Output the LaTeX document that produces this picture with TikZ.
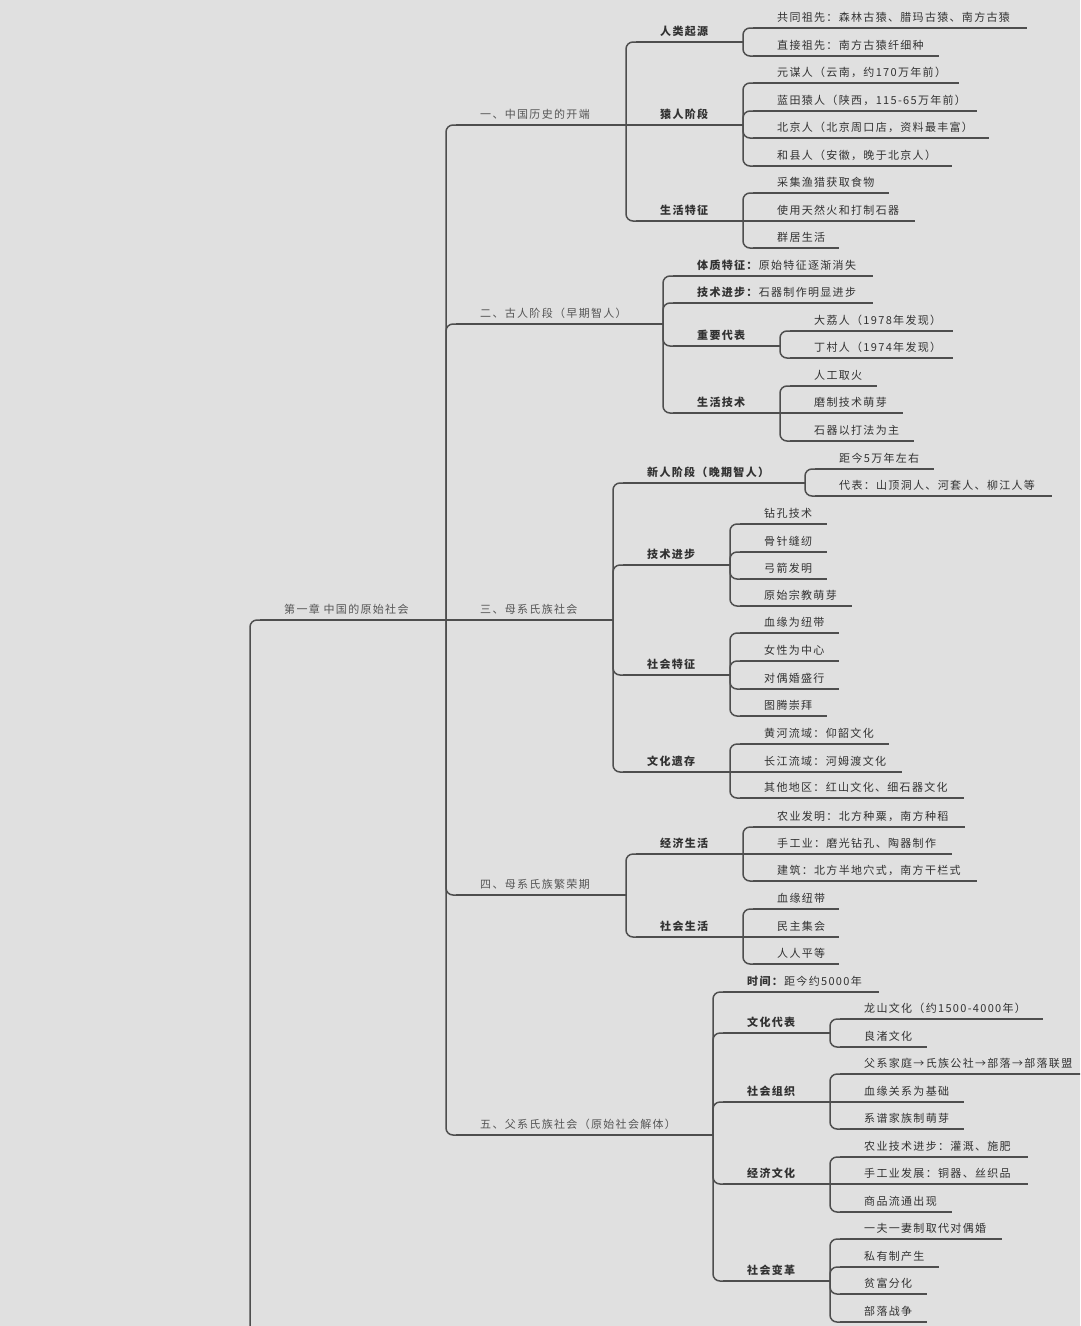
\documentclass[tikz,border=0pt]{standalone}
\usepackage{fontspec}
\setmainfont{Noto Sans CJK SC}[LetterSpace=12]
\usetikzlibrary{calc}
\definecolor{bgc}{RGB}{224,224,224}
\definecolor{linec}{RGB}{78,78,78}
\definecolor{txtc}{RGB}{50,50,50}
\definecolor{lonec}{RGB}{85,85,85}
\tikzset{
  ul/.style={draw=linec, line width=1.5pt},
  conn/.style={draw=linec, line width=1.5pt, rounded corners=7pt},
  leaf/.style={inner sep=0pt, text=txtc, font=\fontsize{11}{13}\selectfont},
  lone/.style={inner sep=0pt, text=lonec, font=\fontsize{11}{13}\selectfont},
  ltwo/.style={inner sep=0pt, text=txtc, font=\fontsize{11}{13}\selectfont\bfseries},
}
% name, xbar, yul, xend, style, text
\newcommand\mmn[6]{%
  \coordinate (#1-a) at (#2,#3);
  \coordinate (#1-b) at (#4,#3);
  \draw[ul] ([xshift=10pt]#1-a) -- (#1-b);
  \node[#5, anchor=base west] (#1) at ($(#1-a)+(34,-7)$) {#6};
}
\newcommand\cn[2]{\draw[conn] (#1-b) |- ([xshift=16pt]#2-a);}
\newcommand\cs[2]{\draw[conn] (#1-b) -- ([xshift=16pt]#2-a);}
\begin{document}
\begin{tikzpicture}[x=1pt,y=-1pt]
\fill[bgc] (0,0) rectangle (1080,1326);
\useasboundingbox (0,0) rectangle (1080,1326);
\clip (0,0) rectangle (1080,1326);

\mmn{root}{250}{620}{446}{lone}{第一章 中国的原始社会}
\coordinate (origin) at (250,1340);
\draw[conn] (origin) |- ([xshift=16pt]root-a);

% level 1
\mmn{a}{446}{125}{626}{lone}{一、中国历史的开端}
\mmn{b}{446}{324}{663}{lone}{二、古人阶段（早期智人）}
\mmn{c}{446}{620}{613}{lone}{三、母系氏族社会}
\mmn{d}{446}{895}{626}{lone}{四、母系氏族繁荣期}
\mmn{e}{446}{1135}{713}{lone}{五、父系氏族社会（原始社会解体）}
\cn{root}{a}\cn{root}{b}\cs{root}{c}\cn{root}{d}\cn{root}{e}

% branch a
\mmn{a1}{626}{42}{743}{ltwo}{人类起源}
\mmn{a2}{626}{125}{743}{ltwo}{猿人阶段}
\mmn{a3}{626}{221}{743}{ltwo}{生活特征}
\cn{a}{a1}\cs{a}{a2}\cn{a}{a3}
\mmn{a11}{743}{28}{1027}{leaf}{共同祖先：森林古猿、腊玛古猿、南方古猿}
\mmn{a12}{743}{56}{939}{leaf}{直接祖先：南方古猿纤细种}
\cn{a1}{a11}\cn{a1}{a12}
\mmn{a21}{743}{83}{959}{leaf}{元谋人（云南，约170万年前）}
\mmn{a22}{743}{111}{977}{leaf}{蓝田猿人（陕西，115-65万年前）}
\mmn{a23}{743}{138}{989}{leaf}{北京人（北京周口店，资料最丰富）}
\mmn{a24}{743}{166}{952}{leaf}{和县人（安徽，晚于北京人）}
\cn{a2}{a21}\cn{a2}{a22}\cn{a2}{a23}\cn{a2}{a24}
\mmn{a31}{743}{193}{889}{leaf}{采集渔猎获取食物}
\mmn{a32}{743}{221}{915}{leaf}{使用天然火和打制石器}
\mmn{a33}{743}{248}{839}{leaf}{群居生活}
\cn{a3}{a31}\cs{a3}{a32}\cn{a3}{a33}

% branch b
\mmn{b1}{663}{276}{873}{leaf}{\textbf{体质特征：}原始特征逐渐消失}
\mmn{b2}{663}{303}{873}{leaf}{\textbf{技术进步：}石器制作明显进步}
\mmn{b3}{663}{346}{780}{ltwo}{重要代表}
\mmn{b4}{663}{413}{780}{ltwo}{生活技术}
\cn{b}{b1}\cn{b}{b2}\cn{b}{b3}\cn{b}{b4}
\mmn{b31}{780}{331}{953}{leaf}{大荔人（1978年发现）}
\mmn{b32}{780}{358}{953}{leaf}{丁村人（1974年发现）}
\cn{b3}{b31}\cn{b3}{b32}
\mmn{b41}{780}{386}{877}{leaf}{人工取火}
\mmn{b42}{780}{413}{903}{leaf}{磨制技术萌芽}
\mmn{b43}{780}{441}{914}{leaf}{石器以打法为主}
\cn{b4}{b41}\cs{b4}{b42}\cn{b4}{b43}

% branch c
\mmn{c1}{613}{483}{805}{ltwo}{新人阶段（晚期智人）}
\mmn{c2}{613}{565}{730}{ltwo}{技术进步}
\mmn{c3}{613}{675}{730}{ltwo}{社会特征}
\mmn{c4}{613}{772}{730}{ltwo}{文化遗存}
\cn{c}{c1}\cn{c}{c2}\cn{c}{c3}\cn{c}{c4}
\mmn{c11}{805}{469}{934}{leaf}{距今5万年左右}
\mmn{c12}{805}{496}{1052}{leaf}{代表：山顶洞人、河套人、柳江人等}
\cn{c1}{c11}\cn{c1}{c12}
\mmn{c21}{730}{524}{827}{leaf}{钻孔技术}
\mmn{c22}{730}{552}{827}{leaf}{骨针缝纫}
\mmn{c23}{730}{579}{827}{leaf}{弓箭发明}
\mmn{c24}{730}{606}{852}{leaf}{原始宗教萌芽}
\cn{c2}{c21}\cn{c2}{c22}\cn{c2}{c23}\cn{c2}{c24}
\mmn{c31}{730}{633}{839}{leaf}{血缘为纽带}
\mmn{c32}{730}{661}{839}{leaf}{女性为中心}
\mmn{c33}{730}{689}{839}{leaf}{对偶婚盛行}
\mmn{c34}{730}{716}{827}{leaf}{图腾崇拜}
\cn{c3}{c31}\cn{c3}{c32}\cn{c3}{c33}\cn{c3}{c34}
\mmn{c41}{730}{744}{889}{leaf}{黄河流域：仰韶文化}
\mmn{c42}{730}{772}{902}{leaf}{长江流域：河姆渡文化}
\mmn{c43}{730}{798}{964}{leaf}{其他地区：红山文化、细石器文化}
\cn{c4}{c41}\cs{c4}{c42}\cn{c4}{c43}

% branch d
\mmn{d1}{626}{854}{743}{ltwo}{经济生活}
\mmn{d2}{626}{937}{743}{ltwo}{社会生活}
\cn{d}{d1}\cn{d}{d2}
\mmn{d11}{743}{827}{965}{leaf}{农业发明：北方种粟，南方种稻}
\mmn{d12}{743}{854}{952}{leaf}{手工业：磨光钻孔、陶器制作}
\mmn{d13}{743}{881}{977}{leaf}{建筑：北方半地穴式，南方干栏式}
\cn{d1}{d11}\cs{d1}{d12}\cn{d1}{d13}
\mmn{d21}{743}{909}{839}{leaf}{血缘纽带}
\mmn{d22}{743}{937}{839}{leaf}{民主集会}
\mmn{d23}{743}{964}{839}{leaf}{人人平等}
\cn{d2}{d21}\cs{d2}{d22}\cn{d2}{d23}

% branch e
\mmn{e1}{713}{992}{879}{leaf}{\textbf{时间：}距今约5000年}
\mmn{e2}{713}{1033}{830}{ltwo}{文化代表}
\mmn{e3}{713}{1102}{830}{ltwo}{社会组织}
\mmn{e4}{713}{1184}{830}{ltwo}{经济文化}
\mmn{e5}{713}{1281}{830}{ltwo}{社会变革}
\cn{e}{e1}\cn{e}{e2}\cn{e}{e3}\cn{e}{e4}\cn{e}{e5}
\mmn{e21}{830}{1019}{1043}{leaf}{龙山文化（约1500-4000年）}
\mmn{e22}{830}{1047}{927}{leaf}{良渚文化}
\cn{e2}{e21}\cn{e2}{e22}
\mmn{e31}{830}{1074}{1095}{leaf}{父系家庭→氏族公社→部落→部落联盟}
\mmn{e32}{830}{1102}{964}{leaf}{血缘关系为基础}
\mmn{e33}{830}{1129}{964}{leaf}{系谱家族制萌芽}
\cn{e3}{e31}\cs{e3}{e32}\cn{e3}{e33}
\mmn{e41}{830}{1157}{1028}{leaf}{农业技术进步：灌溉、施肥}
\mmn{e42}{830}{1184}{1028}{leaf}{手工业发展：铜器、丝织品}
\mmn{e43}{830}{1212}{952}{leaf}{商品流通出现}
\cn{e4}{e41}\cs{e4}{e42}\cn{e4}{e43}
\mmn{e51}{830}{1239}{1002}{leaf}{一夫一妻制取代对偶婚}
\mmn{e52}{830}{1267}{939}{leaf}{私有制产生}
\mmn{e53}{830}{1294}{927}{leaf}{贫富分化}
\mmn{e54}{830}{1322}{927}{leaf}{部落战争}
\cn{e5}{e51}\cn{e5}{e52}\cn{e5}{e53}\cn{e5}{e54}
\end{tikzpicture}
\end{document}
